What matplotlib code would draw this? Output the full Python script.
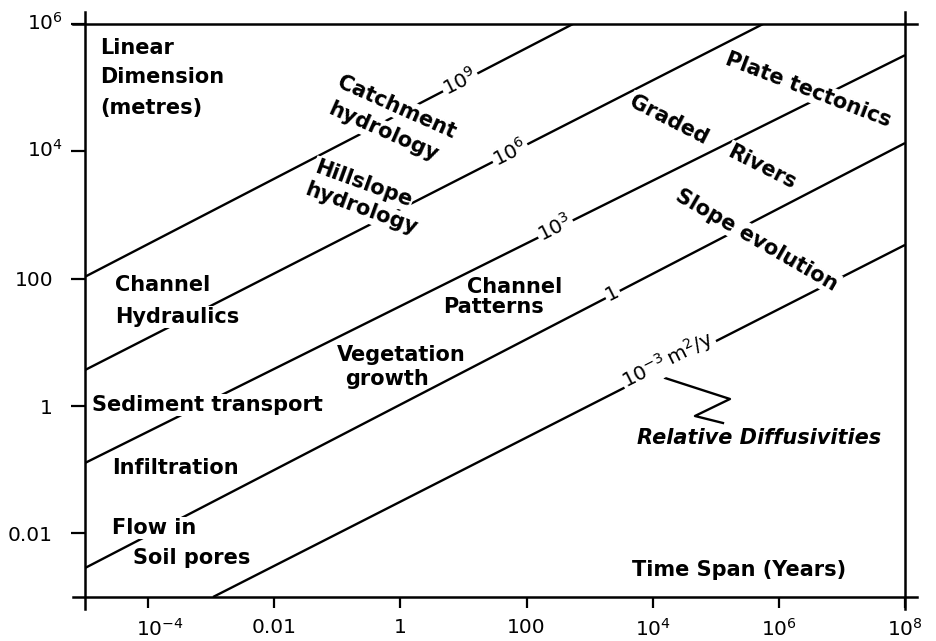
import matplotlib
matplotlib.use("Agg")
import matplotlib.pyplot as plt
from matplotlib.transforms import ScaledTranslation
import numpy as np

# ---- data ----
diffusivity_labels = ["$10^9$", "$10^6$", "$10^3$", "1", "$10^{-3}\\,$m$^2$/y"]
# straight diffusivity lines (log-log): start / end points (years, metres)
line_t_start = [1e-5, 1e-5, 1e-5, 1e-5, 10**-2.97]
line_L_start = [10**2.03, 10**0.565, 10**-0.895, 10**-2.545, 1e-3]
line_t_end = [10**2.736, 10**5.75, 1e8, 1e8, 1e8]
line_L_end = [1e6, 1e6, 10**5.51, 10**4.13, 10**2.53]

x_ticks = [1e-4, 1e-2, 1, 1e2, 1e4, 1e6, 1e8]
x_ticklabels = ["$10^{-4}$", "0.01", "1", "100", "$10^4$", "$10^6$", "$10^8$"]
y_ticks = [1e-2, 1, 1e2, 1e4, 1e6]
y_ticklabels = ["0.01", "1", "100", "$10^4$", "$10^6$"]

# zig-zag pointer to "Relative Diffusivities"
zigzag_t = [10**4.195, 10**5.225, 10**4.67, 10**5.114]
zigzag_L = [10**0.44, 10**0.11, 10**-0.157, 10**-0.267]

# ---- figure ----
plt.rcParams['font.family'] = ['DejaVu Sans']
plt.rcParams['mathtext.default'] = 'regular'
fig = plt.figure(figsize=(9.36, 6.41), dpi=100)
ax = fig.add_axes([85/936, 44/641, 820/936, 573/641])
ax.set_xscale('log')
ax.set_yscale('log')
ax.set_xlim(1e-5, 1e8)
ax.set_ylim(1e-3, 1e6)

for i in range(len(line_t_start)):
    ax.plot([line_t_start[i], line_t_end[i]], [line_L_start[i], line_L_end[i]],
            color='black', lw=1.7, solid_capstyle='butt', zorder=2)

ax.plot(zigzag_t, zigzag_L, color='black', lw=1.7, zorder=2)

ax.set_xticks(x_ticks)
ax.set_xticklabels(x_ticklabels)
ax.set_yticks(y_ticks)
ax.set_yticklabels(y_ticklabels)
ax.minorticks_off()
ax.tick_params(axis='x', direction='out', length=8, width=1.6,
               labelsize=14.5, pad=7)
ax.tick_params(axis='y', direction='out', length=10, width=1.6,
               labelsize=14.5, pad=13)
for s in ax.spines.values():
    s.set_linewidth(1.8)
ax.spines['left'].set_bounds(10**-3.19, 10**6.19)
ax.spines['right'].set_bounds(10**-3.19, 10**6.19)
ax.spines['bottom'].set_bounds(10**-5.19, 10**8.19)
ax.spines['top'].set_bounds(10**-5.19, 10**8.19)

# nudge power-of-ten tick labels so the "10" sits on the tick like the original
xt = ax.xaxis.get_major_ticks()
xt[0].label1.set_transform(xt[0].label1.get_transform() +
                           ScaledTranslation(12/100, 0, fig.dpi_scale_trans))
for tk, lab in zip(ax.yaxis.get_major_ticks(), y_ticklabels):
    if '^' in lab:
        tk.label1.set_transform(tk.label1.get_transform() +
                                ScaledTranslation(10/100, 3/100, fig.dpi_scale_trans))

wb = dict(facecolor='white', edgecolor='none', pad=1.0)
bold = dict(fontweight='bold', fontsize=15, color='black')
T = ax.transAxes

# axis titles inside plot
ax.text(0.0183, 0.958, "Linear", transform=T, ha='left', va='center', **bold)
ax.text(0.0183, 0.9075, "Dimension", transform=T, ha='left', va='center', **bold)
ax.text(0.0183, 0.8534, "(metres)", transform=T, ha='left', va='center', **bold)
ax.text(0.667, 0.0471, "Time Span (Years)", transform=T, ha='left', va='center', **bold)
ax.text(0.6732, 0.2775, "Relative Diffusivities", transform=T, ha='left', va='center',
        fontstyle='italic', **bold)

# process labels
ax.text(0.3805, 0.8551, "Catchment", transform=T, ha='center', va='center',
        rotation=-24, rotation_mode='anchor', bbox=wb, zorder=3, **bold)
ax.text(0.3634, 0.8115, "hydrology", transform=T, ha='center', va='center',
        rotation=-24, rotation_mode='anchor', bbox=wb, zorder=3, **bold)
ax.text(0.339, 0.7208, "Hillslope", transform=T, ha='center', va='center',
        rotation=-20, rotation_mode='anchor', bbox=wb, zorder=3, **bold)
ax.text(0.3366, 0.6771, "hydrology", transform=T, ha='center', va='center',
        rotation=-20, rotation_mode='anchor', bbox=wb, zorder=3, **bold)
ax.text(0.0366, 0.5445, "Channel", transform=T, ha='left', va='center', **bold)
ax.text(0.0366, 0.4887, "Hydraulics", transform=T, ha='left', va='center',
        bbox=wb, zorder=3, **bold)
ax.text(0.0085, 0.3351, "Sediment transport", transform=T, ha='left', va='center',
        bbox=wb, zorder=3, **bold)
ax.text(0.0329, 0.2251, "Infiltration", transform=T, ha='left', va='center', **bold)
ax.text(0.0329, 0.1204, "Flow in", transform=T, ha='left', va='center',
        bbox=wb, zorder=3, **bold)
ax.text(0.0585, 0.0681, "Soil pores", transform=T, ha='left', va='center',
        bbox=wb, zorder=3, **bold)
ax.text(0.4659, 0.541, "Channel", transform=T, ha='left', va='center', **bold)
ax.text(0.4366, 0.5061, "Patterns", transform=T, ha='left', va='center', **bold)
ax.text(0.3073, 0.4223, "Vegetation", transform=T, ha='left', va='center', **bold)
ax.text(0.3171, 0.3805, "growth", transform=T, ha='left', va='center', **bold)
ax.text(0.8817, 0.8848, "Plate tectonics", transform=T, ha='center', va='center',
        rotation=-21, rotation_mode='anchor', bbox=wb, zorder=3, **bold)
ax.text(0.7122, 0.8325, "Graded", transform=T, ha='center', va='center',
        rotation=-27, rotation_mode='anchor', bbox=wb, zorder=3, **bold)
ax.text(0.8256, 0.7504, "Rivers", transform=T, ha='center', va='center',
        rotation=-27, rotation_mode='anchor', bbox=wb, zorder=3, **bold)
ax.text(0.8195, 0.623, "Slope evolution", transform=T, ha='center', va='center',
        rotation=-30, rotation_mode='anchor', bbox=wb, zorder=3, **bold)

# diffusivity line labels
lab_pos = [(0.4573, 0.8988), (0.5183, 0.7749), (0.5732, 0.644),
           (0.6427, 0.5305), (0.711, 0.4136)]
for lab, (px, py) in zip(diffusivity_labels, lab_pos):
    ax.text(px, py, lab, transform=T, ha='center', va='center', fontsize=14.5,
            rotation=26.8, rotation_mode='anchor', bbox=wb, zorder=3)

fig.savefig("out.png", dpi=100, facecolor='white')
